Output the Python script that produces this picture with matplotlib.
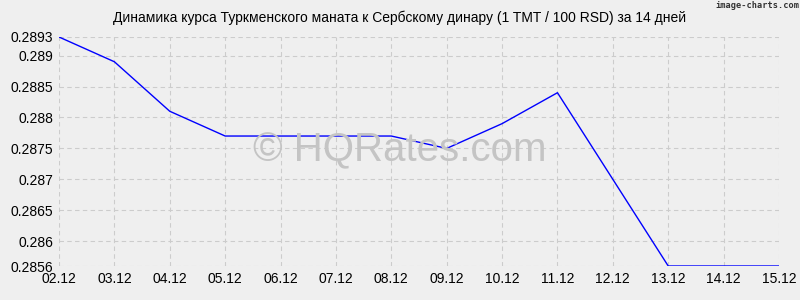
import matplotlib
matplotlib.use("Agg")
import matplotlib.pyplot as plt

plt.rcParams['font.family'] = ['Liberation Sans', 'DejaVu Sans']

dates = ["02.12", "03.12", "04.12", "05.12", "06.12", "07.12", "08.12",
         "09.12", "10.12", "11.12", "12.12", "13.12", "14.12", "15.12"]
rates = [0.2893, 0.2889, 0.2881, 0.2877, 0.2877, 0.2877, 0.2877,
         0.2875, 0.2879, 0.2884, 0.2870, 0.2856, 0.2856, 0.2856]
yticks = [0.2856, 0.286, 0.2865, 0.287, 0.2875, 0.288, 0.2885, 0.289, 0.2893]
ytick_labels = ["0.2856", "0.286", "0.2865", "0.287", "0.2875", "0.288", "0.2885", "0.289", "0.2893"]
title = "Динамика курса Туркменского маната к Сербскому динару (1 TMT / 100 RSD) за 14 дней"

bg = "#efefef"
fig = plt.figure(figsize=(8, 3), dpi=100, facecolor=bg)
ax = fig.add_axes([59/800, 1-266/300, 720/800, 229/300], facecolor=bg)

x = list(range(len(dates)))
ax.plot(x, rates, color="#0000ff", lw=1.0, zorder=3)

ax.set_xlim(0, len(dates) - 1)
ax.set_ylim(min(yticks), max(yticks))
ax.set_xticks(x)
ax.set_xticklabels(dates)
ax.set_yticks(yticks)
ax.set_yticklabels(ytick_labels)
ax.tick_params(axis='both', length=0, labelsize=10, colors="#000000", pad=4)
ax.grid(True, color="#cccccc", ls=(0, (4, 3)), lw=0.8)
for s in ax.spines.values():
    s.set_visible(False)

fig.text(0.5, 1-18/300, title, ha="center", va="center", fontsize=10)
fig.text(0.999, 1-6/300, "image-charts.com", ha="right", va="center",
         fontsize=6.2, color="#333333", fontweight="bold", family=["DejaVu Sans Mono"])
fig.text(400/800, 1-146/300, "© HQRates.com", ha="center", va="center_baseline",
         fontsize=29, color="#c4c4c4", zorder=2)

fig.savefig("out.png", dpi=100, facecolor=bg)
